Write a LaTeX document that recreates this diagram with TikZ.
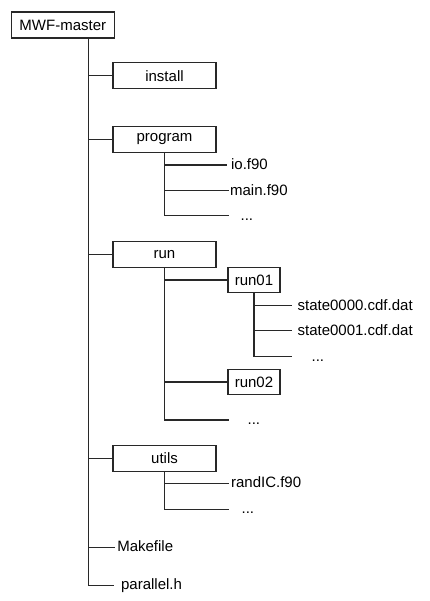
\documentclass[tikz,border=0pt]{standalone}
\usepackage{fontspec}
\setmainfont{Liberation Sans}
\definecolor{linec}{RGB}{40,40,40}
\begin{document}
\begin{tikzpicture}[x=1pt,y=-1pt,line width=1.2pt,
  txt/.style={font=\fontsize{15}{18}\selectfont},
  box/.style={txt,draw=linec,minimum width=103pt,minimum height=26pt,inner sep=0pt},
  sbox/.style={box,minimum width=52pt,minimum height=25.5pt},
  leaf/.style={txt,anchor=west,inner ysep=0pt,inner xsep=1pt,text height=10pt,text depth=1pt},
  conn/.style={draw=linec,line join=miter}]
\useasboundingbox (0,0) rectangle (429,601);
% top level
\node[box] (master) at (62.8,25) {MWF-master};
\node[box] (install) at (164.5,75.7) {install};
\node[box] (program) at (164.5,139.5) {program};
\node[box] (run) at (164.5,254.2) {run};
\node[box] (utils) at (164.5,458.3) {utils};
\node[leaf,inner xsep=1.7pt] (make) at (115,547.3) {Makefile};
\node[leaf,inner xsep=6.5pt] (par) at (114,585.3) {parallel.h};
\coordinate (trunk) at (88.3,585.3);
% program children
\node[leaf,inner xsep=3.5pt] (io) at (227,165) {io.f90};
\node[leaf,inner xsep=0.5pt] (main) at (229,190.7) {main.f90};
\node[leaf,inner xsep=11pt] (pdots) at (229,215.7) {...};
% run children
\node[sbox] (run01) at (254,280) {run01};
\node[sbox] (run02) at (254,382) {run02};
\node[leaf,inner xsep=18pt] (rdots) at (229,420) {...};
% run01 children
\node[leaf,inner xsep=5pt] (s0) at (292,305.7) {state0000.cdf.dat};
\node[leaf,inner xsep=5pt] (s1) at (292,330.7) {state0001.cdf.dat};
\node[leaf,inner xsep=19pt] (r1dots) at (292,356.7) {...};
% utils children
\node[leaf,inner xsep=1.5pt] (rand) at (229,483.3) {randIC.f90};
\node[leaf,inner xsep=12pt] (udots) at (229,509.3) {...};
% connectors
\draw[conn] (master.south -| trunk) -- (trunk) -- (par.west);
\draw[conn] (install.west -| trunk) -- (install.west);
\draw[conn] (program.west -| trunk) -- (program.west);
\draw[conn] (run.west -| trunk) -- (run.west);
\draw[conn] (utils.west -| trunk) -- (utils.west);
\draw[conn] (make.west -| trunk) -- (make.west);
\draw[conn] (program.south) -- (pdots.west -| program.south) -- (pdots.west);
\draw[conn] (io.west -| program.south) -- (io.west);
\draw[conn] (main.west -| program.south) -- (main.west);
\draw[conn] (run.south) -- (rdots.west -| run.south) -- (rdots.west);
\draw[conn] (run01.west -| run.south) -- (run01.west);
\draw[conn] (run02.west -| run.south) -- (run02.west);
\draw[conn] (run01.south) -- (r1dots.west -| run01.south) -- (r1dots.west);
\draw[conn] (s0.west -| run01.south) -- (s0.west);
\draw[conn] (s1.west -| run01.south) -- (s1.west);
\draw[conn] (utils.south) -- (udots.west -| utils.south) -- (udots.west);
\draw[conn] (rand.west -| utils.south) -- (rand.west);
\end{tikzpicture}
\end{document}
